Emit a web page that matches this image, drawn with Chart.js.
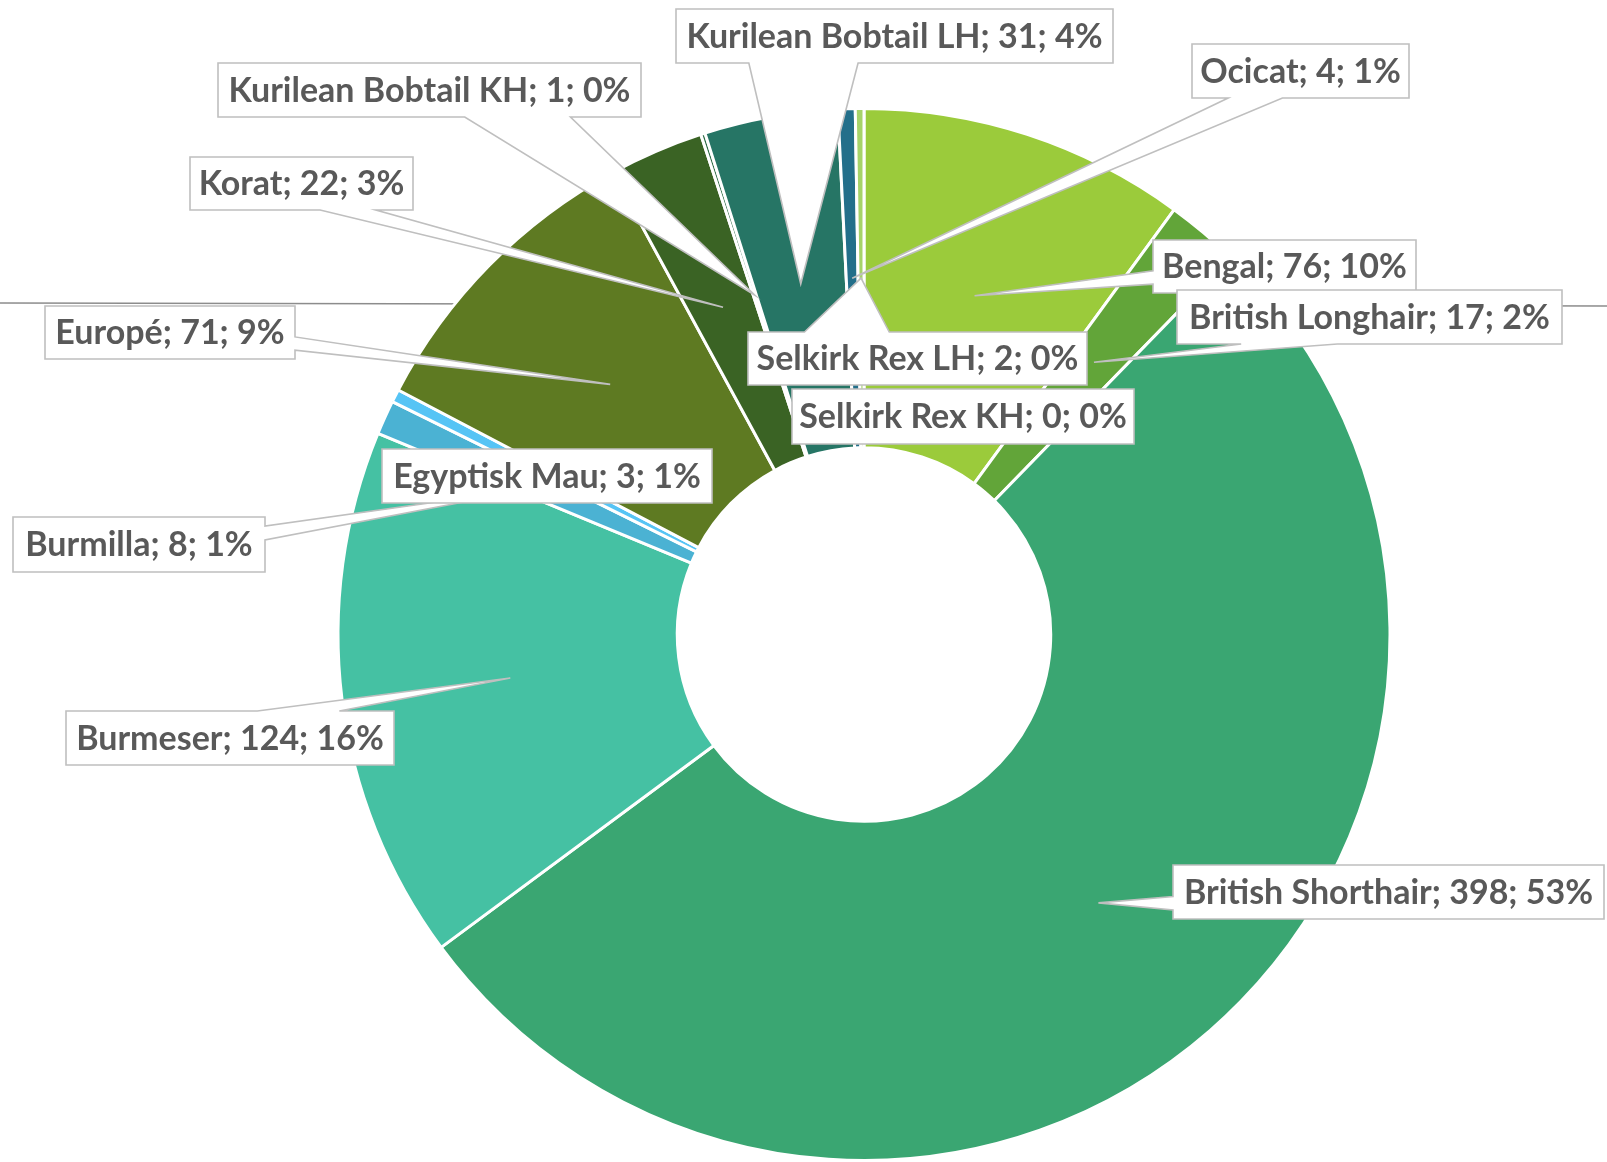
<!DOCTYPE html>
<html>
<head>
<meta charset="utf-8">
<script src="https://cdn.jsdelivr.net/npm/chart.js@4.4.1/dist/chart.umd.min.js"></script>
<style>
  html, body { margin: 0; padding: 0; background: #fff; }
  #wrap { width: 1607px; height: 1162px; }
</style>
</head>
<body>
<div id="wrap"><canvas id="catChart" width="1607" height="1162"></canvas></div>
<script>
const breeds = [
  "Bengal", "British Longhair", "British Shorthair", "Burmeser", "Burmilla",
  "Egyptisk Mau", "Europé", "Korat", "Kurilean Bobtail KH", "Kurilean Bobtail LH",
  "Ocicat", "Selkirk Rex LH", "Selkirk Rex KH"
];
const counts = [76, 17, 398, 124, 8, 3, 71, 22, 1, 31, 4, 2, 0];
const pctLabels = ["10%", "2%", "53%", "16%", "1%", "1%", "9%", "3%", "0%", "4%", "1%", "0%", "0%"];

const sliceColors = [
  "#9bcb3b", "#62a539", "#3aa672", "#45c1a3", "#4bb2d3",
  "#56c4f5", "#5e7a22", "#3a6324", "#2e6b45", "#267565",
  "#236f8a", "#a6d36a", "#7fbf5f"
];

// callout boxes [left, top, width, height], same order as breeds
const calloutBoxes = [
  [1153, 240, 263, 53],
  [1177, 290, 385, 54],
  [1173, 865, 431, 54],
  [66, 711, 328, 54],
  [13, 517, 252, 55],
  [382, 449, 330, 54],
  [45, 306, 250, 53],
  [190, 157, 223, 53],
  [218, 63, 423, 54],
  [676, 9, 437, 54],
  [1192, 44, 217, 54],
  [748, 332, 339, 53],
  [792, 389, 342, 55]
];

// rectangle with a wedge pointing at tip (same rule as an office "wedge callout")
function calloutPath(ctx, x, y, w, h, tip) {
  ctx.beginPath();
  if (!tip) {
    ctx.rect(x, y, w, h);
    return;
  }
  const dx = tip.x - (x + w / 2);
  const dy = tip.y - (y + h / 2);
  const vertical = Math.abs(dy) > Math.abs(dx * h / w);
  const a = dx > 0 ? 7 / 12 : 1 / 6, b = dx > 0 ? 5 / 6 : 5 / 12;
  const c = dy > 0 ? 7 / 12 : 1 / 6, d = dy > 0 ? 5 / 6 : 5 / 12;
  ctx.moveTo(x, y);
  if (vertical && dy < 0) {
    ctx.lineTo(x + w * a, y);
    ctx.lineTo(tip.x, tip.y);
    ctx.lineTo(x + w * b, y);
  }
  ctx.lineTo(x + w, y);
  if (!vertical && dx > 0) {
    ctx.lineTo(x + w, y + h * c);
    ctx.lineTo(tip.x, tip.y);
    ctx.lineTo(x + w, y + h * d);
  }
  ctx.lineTo(x + w, y + h);
  if (vertical && dy > 0) {
    ctx.lineTo(x + w * b, y + h);
    ctx.lineTo(tip.x, tip.y);
    ctx.lineTo(x + w * a, y + h);
  }
  ctx.lineTo(x, y + h);
  if (!vertical && dx < 0) {
    ctx.lineTo(x, y + h * d);
    ctx.lineTo(tip.x, tip.y);
    ctx.lineTo(x, y + h * c);
  }
  ctx.closePath();
}

const calloutPlugin = {
  id: "callouts",
  beforeDatasetsDraw(chart) {
    // thin grey rule that runs behind the chart
    const ctx = chart.ctx;
    ctx.save();
    ctx.strokeStyle = "#8c8c8c";
    ctx.lineWidth = 1.3;
    ctx.beginPath();
    ctx.moveTo(0, 303);
    ctx.lineTo(chart.width, 306);
    ctx.stroke();
    ctx.restore();
  },
  afterDatasetsDraw(chart) {
    const ctx = chart.ctx;
    const arcs = chart.getDatasetMeta(0).data;
    ctx.save();
    ctx.font = "bold 34px Lato";
    ctx.textAlign = "center";
    ctx.textBaseline = "middle";
    arcs.forEach((arc, i) => {
      const [x, y, w, h] = calloutBoxes[i];
      const tip = arc.tooltipPosition(true);
      const inside = tip.x > x && tip.x < x + w && tip.y > y && tip.y < y + h;
      calloutPath(ctx, x, y, w, h, counts[i] > 0 && !inside ? tip : null);
      ctx.fillStyle = "#ffffff";
      ctx.fill();
      ctx.strokeStyle = "#bfbfbf";
      ctx.lineWidth = 1.6;
      ctx.stroke();
      ctx.fillStyle = "#595959";
      ctx.fillText(breeds[i] + "; " + counts[i] + "; " + pctLabels[i], x + w / 2, y + h / 2 + 1);
    });
    ctx.restore();
  }
};

let ctx = document.getElementById("catChart").getContext("2d");
new Chart(ctx, {
  type: "doughnut",
  data: {
    labels: breeds,
    datasets: [
      {
        data: counts,
        backgroundColor: sliceColors,
        borderColor: "#ffffff",
        borderWidth: 3,
      },
    ],
  },
  plugins: [calloutPlugin],
  options: {
    responsive: false,
    animation: false,
    events: [],
    cutout: "35.5%",
    layout: {
      padding: { left: 335, right: 214, top: 107, bottom: -3 },
    },
    plugins: {
      legend: { display: false },
      tooltip: { enabled: false },
    },
  },
});
</script>
</body>
</html>
